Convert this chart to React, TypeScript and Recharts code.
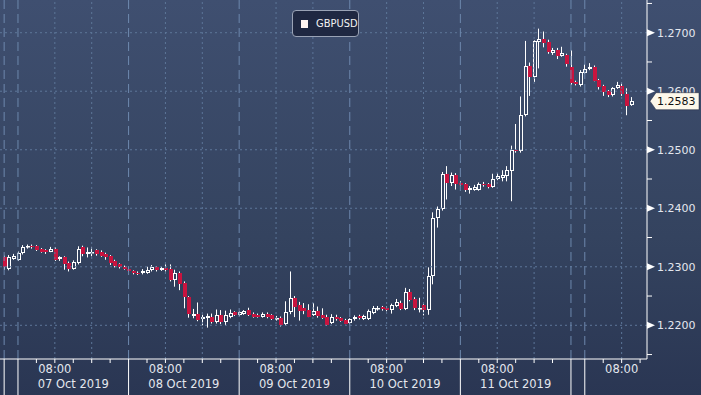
import React from 'react';
import { ComposedChart, XAxis, YAxis, Bar, ReferenceLine } from 'recharts';

// hourly GBPUSD candles; slot 0 = Mon 07 Oct 00:00, weekends skipped
const firstSlot = -3;

const opens = [
  1.2316, 1.2297, 1.2314,
  1.2312, 1.2323, 1.2333, 1.2336, 1.2335, 1.2330, 1.2328, 1.2326, 1.2331, 1.2313,
  1.2316, 1.2307, 1.2297, 1.2306, 1.2333, 1.2322, 1.2323, 1.2328, 1.2326, 1.2322,
  1.2318, 1.2310, 1.2304, 1.2300, 1.2297, 1.2292, 1.2290, 1.2289, 1.2290, 1.2294,
  1.2299, 1.2295, 1.2298, 1.2296, 1.2278, 1.2289, 1.2273, 1.2248, 1.2216, 1.2220,
  1.2211, 1.2212, 1.2215, 1.2205, 1.2217, 1.2205, 1.2214, 1.2222, 1.2218, 1.2220,
  1.2226, 1.2220, 1.2218, 1.2215, 1.2220, 1.2217, 1.2211, 1.2213, 1.2202, 1.2222,
  1.2246, 1.2234, 1.2230, 1.2226, 1.2217, 1.2224, 1.2218, 1.2215, 1.2204, 1.2215,
  1.2212, 1.2209, 1.2204, 1.2210, 1.2216, 1.2211, 1.2211, 1.2221, 1.2227, 1.2231,
  1.2230, 1.2226, 1.2233, 1.2238, 1.2228, 1.2257, 1.2245, 1.2227, 1.2234, 1.2226,
  1.2284, 1.2384, 1.2398, 1.2458, 1.2443, 1.2456, 1.2444, 1.2441, 1.2431, 1.2432,
  1.2432, 1.2442, 1.2441, 1.2437, 1.2450, 1.2451, 1.2455, 1.2463, 1.2500, 1.2497,
  1.2559, 1.2643, 1.2624, 1.2684, 1.2690, 1.2684, 1.2665, 1.2670, 1.2661, 1.2662,
  1.2641, 1.2616, 1.2610, 1.2632, 1.2638, 1.2642, 1.2619, 1.2609, 1.2600, 1.2593,
  1.2606, 1.2609, 1.2595, 1.2576,
];

const highs = [
  1.2319, 1.2320, 1.2322,
  1.2326, 1.2337, 1.2338, 1.2338, 1.2337, 1.2332, 1.2330, 1.2334, 1.2333, 1.2318,
  1.2318, 1.2309, 1.2311, 1.2335, 1.2336, 1.2333, 1.2334, 1.2330, 1.2328, 1.2324,
  1.2320, 1.2312, 1.2306, 1.2302, 1.2299, 1.2294, 1.2292, 1.2296, 1.2300, 1.2303,
  1.2301, 1.2300, 1.2304, 1.2304, 1.2295, 1.2292, 1.2275, 1.2250, 1.2228, 1.2239,
  1.2218, 1.2220, 1.2220, 1.2227, 1.2226, 1.2225, 1.2227, 1.2224, 1.2224, 1.2226,
  1.2230, 1.2222, 1.2220, 1.2222, 1.2222, 1.2219, 1.2216, 1.2215, 1.2241, 1.2292,
  1.2250, 1.2240, 1.2238, 1.2236, 1.2238, 1.2232, 1.2229, 1.2218, 1.2219, 1.2218,
  1.2214, 1.2211, 1.2212, 1.2217, 1.2218, 1.2218, 1.2227, 1.2233, 1.2233, 1.2233,
  1.2232, 1.2237, 1.2245, 1.2242, 1.2264, 1.2262, 1.2248, 1.2247, 1.2236, 1.2299,
  1.2393, 1.2403, 1.2462, 1.2472, 1.2461, 1.2460, 1.2446, 1.2443, 1.2438, 1.2440,
  1.2444, 1.2445, 1.2443, 1.2459, 1.2460, 1.2465, 1.2472, 1.2507, 1.2544, 1.2591,
  1.2686, 1.2649, 1.2687, 1.2707, 1.2702, 1.2688, 1.2674, 1.2674, 1.2676, 1.2664,
  1.2670, 1.2618, 1.2636, 1.2646, 1.2648, 1.2644, 1.2621, 1.2611, 1.2602, 1.2607,
  1.2616, 1.2615, 1.2605, 1.2590,
];

const lows = [
  1.2295, 1.2294, 1.2312,
  1.2310, 1.2321, 1.2331, 1.2331, 1.2327, 1.2324, 1.2322, 1.2325, 1.2310, 1.2310,
  1.2295, 1.2292, 1.2295, 1.2304, 1.2318, 1.2316, 1.2318, 1.2319, 1.2317, 1.2312,
  1.2303, 1.2299, 1.2297, 1.2295, 1.2291, 1.2287, 1.2286, 1.2287, 1.2288, 1.2292,
  1.2292, 1.2293, 1.2292, 1.2275, 1.2266, 1.2260, 1.2229, 1.2213, 1.2212, 1.2207,
  1.2200, 1.2196, 1.2203, 1.2203, 1.2202, 1.2200, 1.2212, 1.2216, 1.2216, 1.2218,
  1.2216, 1.2213, 1.2213, 1.2213, 1.2212, 1.2209, 1.2208, 1.2198, 1.2200, 1.2219,
  1.2214, 1.2208, 1.2219, 1.2214, 1.2216, 1.2213, 1.2211, 1.2199, 1.2202, 1.2208,
  1.2206, 1.2202, 1.2202, 1.2208, 1.2210, 1.2209, 1.2209, 1.2219, 1.2225, 1.2225,
  1.2224, 1.2220, 1.2231, 1.2226, 1.2226, 1.2241, 1.2226, 1.2222, 1.2217, 1.2218,
  1.2270, 1.2367, 1.2396, 1.2415, 1.2438, 1.2432, 1.2438, 1.2428, 1.2425, 1.2430,
  1.2430, 1.2437, 1.2434, 1.2435, 1.2448, 1.2446, 1.2446, 1.2412, 1.2495, 1.2495,
  1.2557, 1.2592, 1.2616, 1.2639, 1.2675, 1.2664, 1.2662, 1.2655, 1.2659, 1.2642,
  1.2611, 1.2610, 1.2608, 1.2630, 1.2636, 1.2617, 1.2603, 1.2592, 1.2590, 1.2591,
  1.2604, 1.2592, 1.2559, 1.2575,
];

const closes = [
  1.2299, 1.2316, 1.2319,
  1.2324, 1.2333, 1.2336, 1.2333, 1.2328, 1.2326, 1.2325, 1.2331, 1.2312, 1.2316,
  1.2304, 1.2297, 1.2309, 1.2331, 1.2321, 1.2325, 1.2326, 1.2321, 1.2319, 1.2316,
  1.2307, 1.2302, 1.2299, 1.2297, 1.2293, 1.2289, 1.2288, 1.2292, 1.2295, 1.2299,
  1.2294, 1.2298, 1.2294, 1.2278, 1.2289, 1.2271, 1.2248, 1.2220, 1.2220, 1.2209,
  1.2214, 1.2216, 1.2205, 1.2217, 1.2205, 1.2217, 1.2221, 1.2218, 1.2222, 1.2224,
  1.2218, 1.2215, 1.2215, 1.2220, 1.2214, 1.2211, 1.2213, 1.2201, 1.2223, 1.2246,
  1.2232, 1.2225, 1.2224, 1.2215, 1.2224, 1.2216, 1.2213, 1.2201, 1.2215, 1.2210,
  1.2208, 1.2203, 1.2210, 1.2215, 1.2212, 1.2216, 1.2224, 1.2230, 1.2230, 1.2227,
  1.2226, 1.2234, 1.2240, 1.2228, 1.2257, 1.2244, 1.2230, 1.2229, 1.2226, 1.2285,
  1.2384, 1.2398, 1.2458, 1.2443, 1.2456, 1.2442, 1.2440, 1.2431, 1.2435, 1.2437,
  1.2442, 1.2439, 1.2436, 1.2450, 1.2455, 1.2456, 1.2465, 1.2500, 1.2497, 1.2560,
  1.2643, 1.2624, 1.2685, 1.2690, 1.2683, 1.2667, 1.2670, 1.2661, 1.2665, 1.2647,
  1.2614, 1.2612, 1.2633, 1.2638, 1.2642, 1.2618, 1.2607, 1.2598, 1.2593, 1.2605,
  1.2610, 1.2595, 1.2575, 1.2583,
];

// axis ticks
const sessionBreaks = [-3, 0, 24, 48, 72, 96, 120, 123];
const hourTicks = [4, 8, 12, 16, 20, 28, 32, 36, 40, 44, 52, 56, 60, 64, 68, 76, 80, 84, 88, 92, 100, 104, 108, 112, 116, 127, 131, 135];
const timeLabelSlots = [8, 32, 56, 80, 104, 131];
const dateSlots = [12, 36, 60, 84, 108];
const dateLabels = ['07 Oct 2019', '08 Oct 2019', '09 Oct 2019', '10 Oct 2019', '11 Oct 2019'];
const dotGridSlots = [8, 16, 32, 40, 56, 64, 80, 88, 104, 112, 131];

const majorPrices = [1.22, 1.23, 1.24, 1.25, 1.26, 1.27];
const minorPrices = [1.215, 1.225, 1.235, 1.245, 1.255, 1.265, 1.275];
const lastClose = closes[closes.length - 1];

const candles = opens.map((o, i) => ({
  s: firstSlot + i,
  o,
  h: highs[i],
  l: lows[i],
  c: closes[i],
  range: [lows[i], highs[i]],
}));

const RED = '#c8143f';
const TXT = '#e4e7ee';
const FONT = '"DejaVu Sans", sans-serif';

function Candle(props: any) {
  const { x, y, width, height, payload } = props;
  if (!payload) return null;
  const { o, h, l, c } = payload;
  const yTop = Math.min(y, y + height);
  const yBot = Math.max(y, y + height);
  const span = h - l || 1;
  const py = (v: number) => yTop + ((h - v) / span) * (yBot - yTop);
  const px = Math.round(x + width / 2);
  const bTop = Math.round(py(Math.max(o, c)));
  let bBot = Math.round(py(Math.min(o, c)));
  if (bBot - bTop < 1) bBot = bTop + 1;
  const wx = px + 0.5;
  if (c >= o) {
    return (
      <g>
        <line x1={wx} x2={wx} y1={yTop} y2={bTop} stroke="#fff" strokeWidth={1} />
        <line x1={wx} x2={wx} y1={bBot} y2={yBot} stroke="#fff" strokeWidth={1} />
        <rect x={px - 0.5} y={bTop + 0.5} width={3} height={Math.max(bBot - bTop - 1, 0.5)} fill="none" stroke="#fff" strokeWidth={1} />
      </g>
    );
  }
  return (
    <g>
      <line x1={wx} x2={wx} y1={yTop} y2={yBot} stroke="#fff" strokeWidth={1} />
      <rect x={px - 1} y={bTop} width={4} height={bBot - bTop} fill={RED} />
    </g>
  );
}

function XTick(props: any) {
  const { x, y, payload } = props;
  const v = payload.value;
  const di = dateSlots.indexOf(v);
  return (
    <g>
      {sessionBreaks.includes(v) ? (
        <line x1={x} x2={x} y1={y} y2={y + 36} stroke="#fff" strokeWidth={1} />
      ) : (
        <line x1={x} x2={x} y1={y} y2={y + 4} stroke="#fff" strokeWidth={1} />
      )}
      {timeLabelSlots.includes(v) && (
        <text x={x} y={y + 14} textAnchor="middle" fill={TXT} fontSize={11.5} fontFamily={FONT}>08:00</text>
      )}
      {di >= 0 && (
        <text x={x} y={y + 29} textAnchor="middle" fill={TXT} fontSize={11.5} fontFamily={FONT}>{dateLabels[di]}</text>
      )}
    </g>
  );
}

function YTick(props: any) {
  const { x, y, payload } = props;
  const v = payload.value;
  if (v === lastClose) {
    return (
      <g>
        <path d={`M${x + 3},${y} L${x + 9},${y - 8.5} L${x + 52},${y - 8.5} L${x + 52},${y + 8.5} L${x + 9},${y + 8.5} Z`} fill="#fdf8ea" stroke="#1c2338" strokeWidth={0.5} />
        <text x={x + 10} y={y + 4} fill="#111" fontSize={11} fontFamily={FONT}>{v.toFixed(4)}</text>
      </g>
    );
  }
  if (majorPrices.includes(v)) {
    return (
      <g>
        <polygon points={`${x},${y - 3.5} ${x + 8},${y} ${x},${y + 3.5}`} fill="#fff" />
        <text x={x + 10} y={y + 4} fill={TXT} fontSize={11} fontFamily={FONT}>{v.toFixed(4)}</text>
      </g>
    );
  }
  return <line x1={x} x2={x + 5} y1={y} y2={y} stroke="#fff" strokeWidth={1} />;
}

export default function App() {
  return (
    <div
      style={{
        position: 'absolute',
        left: 0,
        top: 0,
        width: 701,
        height: 395,
        overflow: 'hidden',
        background: 'linear-gradient(180deg, #3f4f70 0%, #34435f 60%, #2a3653 100%)',
      }}
    >
      <ComposedChart width={701} height={395} data={candles} margin={{ top: 0, right: 0, bottom: 0, left: 0 }}>
        <XAxis
          dataKey="s"
          type="number"
          domain={[-3.9, 136.5]}
          allowDataOverflow
          ticks={[...sessionBreaks, ...hourTicks]}
          interval={0}
          tickLine={false}
          tickSize={0}
          tickMargin={0}
          height={36}
          axisLine={{ stroke: '#fff' }}
          tick={<XTick />}
        />
        <YAxis
          orientation="right"
          type="number"
          domain={[1.21424, 1.27559]}
          allowDataOverflow
          ticks={[...minorPrices, ...majorPrices, lastClose]}
          interval={0}
          width={54}
          tickLine={false}
          tickSize={0}
          tickMargin={0}
          axisLine={{ stroke: '#fff' }}
          tick={<YTick />}
        />
        {majorPrices.map((p) => (
          <ReferenceLine key={'h' + p} y={p} stroke="#5d7699" strokeDasharray="2 3" />
        ))}
        {dotGridSlots.map((s) => (
          <ReferenceLine key={'d' + s} x={s} stroke="#5d7699" strokeDasharray="2 3" />
        ))}
        {sessionBreaks.map((s) => (
          <ReferenceLine key={'b' + s} x={s} stroke="#6d88ad" strokeDasharray="9 5" />
        ))}
        <Bar dataKey="range" barSize={4} shape={<Candle />} isAnimationActive={false} />
      </ComposedChart>
      <div
        style={{
          position: 'absolute',
          left: 292,
          top: 10,
          width: 67,
          height: 27,
          boxSizing: 'border-box',
          border: '1px solid #9aa3b6',
          borderRadius: 4,
          background: '#1f2842',
          display: 'flex',
          alignItems: 'center',
          fontFamily: '"Liberation Sans Narrow", "DejaVu Sans Condensed", sans-serif',
          fontSize: 11,
          color: '#f2f2f2',
        }}
      >
        <span style={{ display: 'inline-block', width: 7, height: 8, background: '#fff5f2', marginLeft: 8, marginRight: 8 }} />
        GBPUSD
      </div>
    </div>
  );
}
